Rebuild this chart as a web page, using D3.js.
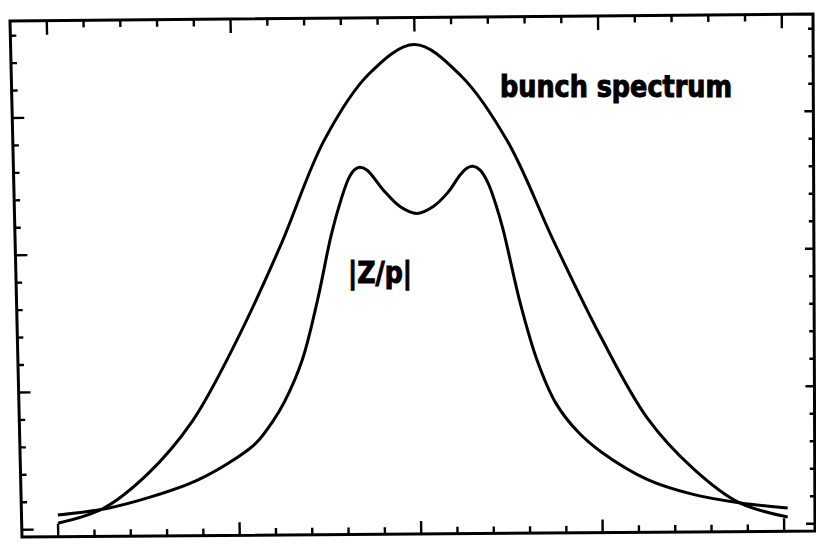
<!DOCTYPE html>
<html>
<head>
<meta charset="utf-8">
<script src="https://cdn.jsdelivr.net/npm/d3@7"></script>
<style>
  html, body { margin: 0; padding: 0; background: #fff; }
  svg { display: block; }
</style>
</head>
<body>
<svg id="chart" width="816" height="545"></svg>
<script>
// Bunch spectrum (single broad peak)
const bunchX = [0.00, 0.25, 0.50, 0.75, 1.00, 1.25, 1.50, 1.75, 2.00,
                2.25, 2.50, 2.75, 3.00, 3.25, 3.50, 3.75, 4.02];
const bunchY = [0.045, 0.15, 0.40, 0.78, 1.36, 2.05, 2.82, 3.30, 3.51,
                3.28, 2.80, 2.06, 1.37, 0.78, 0.41, 0.16, 0.05];

// Impedance |Z/p| (double peak)
const zX = [0.00, 0.27, 0.51, 0.77, 1.00, 1.10, 1.19, 1.26, 1.36, 1.45, 1.53, 1.59, 1.63, 1.66,
            1.69, 1.73, 1.82, 1.91, 2.00, 2.09, 2.17, 2.24, 2.28, 2.31, 2.35, 2.39, 2.43, 2.47,
            2.56, 2.65, 2.75, 2.87, 3.00, 3.25, 3.50, 3.76, 4.02];
const zY = [0.105, 0.15, 0.23, 0.35, 0.52, 0.62, 0.77, 0.92, 1.22, 1.66, 2.13, 2.40, 2.54, 2.60,
            2.62, 2.60, 2.45, 2.33, 2.28, 2.33, 2.43, 2.56, 2.61, 2.62, 2.59, 2.50, 2.35, 2.16,
            1.62, 1.20, 0.89, 0.68, 0.53, 0.33, 0.22, 0.155, 0.115];

// Axis ticks (unlabelled)
const xMajorTicks = [0, 1, 2, 3, 4];
const xMinorTicks = d3.range(0, 4.01, 0.2);
const yMajorTicks = [0, 1, 2, 3];
const yMinorTicks = d3.range(0, 3.61, 0.2);

const curveLabels = ["bunch spectrum", "|Z/p|"];

// Data scales onto the unit square of the plot frame
const x = d3.scaleLinear().domain([-0.2, 4.17]).range([0, 1]);
const y = d3.scaleLinear().domain([-0.053, 3.707]).range([1, 0]);

// Frame corners on the page (slightly out of square)
const TL = [10, 21], TR = [813, 14], BL = [22, 537], BR = [815, 531];
function project(u, v) {
  const a = (1 - u) * (1 - v), b = u * (1 - v), c = (1 - u) * v, d = u * v;
  return [a * TL[0] + b * TR[0] + c * BL[0] + d * BR[0],
          a * TL[1] + b * TR[1] + c * BL[1] + d * BR[1]];
}
const W = 803, H = 516;

const svg = d3.select("#chart");
const ink = "#000";

// Frame
svg.append("path")
  .attr("d", "M" + [TL, TR, BR, BL].map(p => p.join(",")).join("L") + "Z")
  .attr("fill", "none").attr("stroke", ink).attr("stroke-width", 3)
  .attr("stroke-linejoin", "miter");

const tickG = svg.append("g").attr("stroke", ink).attr("stroke-width", 2.4).attr("stroke-linecap", "butt");
function tick(p0, p1) {
  tickG.append("line").attr("x1", p0[0]).attr("y1", p0[1]).attr("x2", p1[0]).attr("y2", p1[1]);
}
const isMajor = (v, majors) => majors.some(m => Math.abs(m - v) < 1e-6);

// Top and bottom ticks (pointing inward)
xMinorTicks.forEach(t => {
  const u = x(t);
  if (u <= 0.01 || u >= 0.99) return;
  const major = isMajor(t, xMajorTicks);
  const lt = (major ? 14 : 7) / H;
  const lb = (major ? 13 : 7) / H;
  tick(project(u, 0), project(u, lt));
  tick(project(u, 1), project(u, 1 - lb));
});

// Left and right ticks (pointing inward)
yMinorTicks.forEach(t => {
  const v = y(t);
  if (v <= 0.01 || v >= 0.995) return;
  const major = isMajor(t, yMajorTicks);
  const ll = (major ? 12 : 6) / W;
  const lr = (major ? 9 : 5) / W;
  tick(project(0, v), project(ll, v));
  tick(project(1, v), project(1 - lr, v));
});

// Curves
const line = d3.line()
  .x(d => project(x(d[0]), y(d[1]))[0])
  .y(d => project(x(d[0]), y(d[1]))[1])
  .curve(d3.curveCatmullRom.alpha(0.5));

const bunch = bunchX.map((v, i) => [v, bunchY[i]]);
const imp = zX.map((v, i) => [v, zY[i]]);

svg.append("path").datum(bunch).attr("d", line)
  .attr("fill", "none").attr("stroke", ink).attr("stroke-width", 3).attr("stroke-linejoin", "round");
svg.append("path").datum(imp).attr("d", line)
  .attr("fill", "none").attr("stroke", ink).attr("stroke-width", 3).attr("stroke-linejoin", "round");

// Curve labels
const font = "'Liberation Sans Narrow', 'DejaVu Sans Condensed', 'Liberation Sans', sans-serif";
svg.append("text")
  .attr("x", 500).attr("y", 97)
  .attr("textLength", 232).attr("lengthAdjust", "spacingAndGlyphs")
  .style("font-family", font).style("font-weight", "bold").style("font-size", "30px")
  .attr("fill", ink).attr("stroke", ink).attr("stroke-width", 1)
  .text(curveLabels[0]);

svg.append("text")
  .attr("x", 348).attr("y", 283)
  .attr("textLength", 64).attr("lengthAdjust", "spacingAndGlyphs")
  .style("font-family", font).style("font-weight", "bold").style("font-size", "30px")
  .attr("fill", ink).attr("stroke", ink).attr("stroke-width", 1)
  .text(curveLabels[1]);
</script>
</body>
</html>
